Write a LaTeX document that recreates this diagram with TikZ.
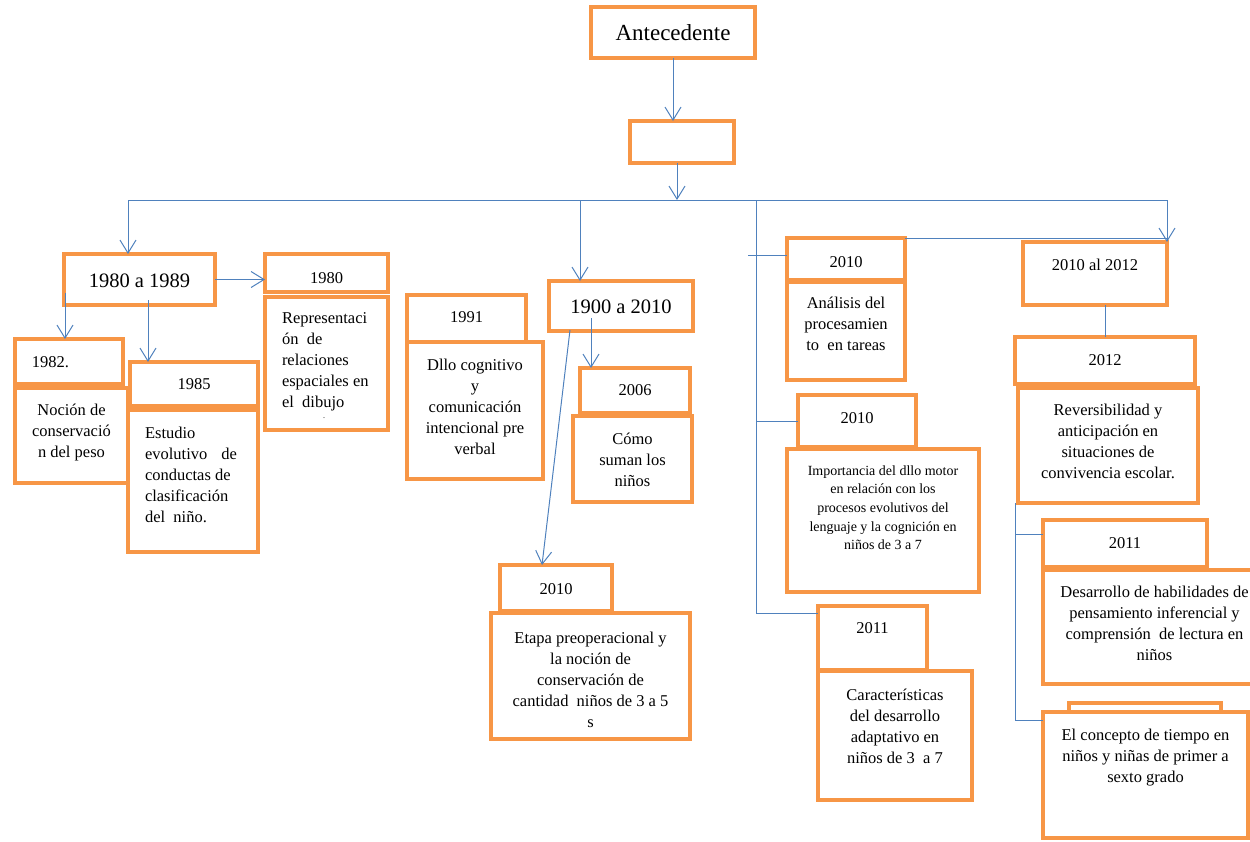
\documentclass[tikz,border=0pt]{standalone}
\usepackage{fontspec}
\setmainfont{Liberation Serif}
\usetikzlibrary{arrows.meta,calc}
\definecolor{boxor}{HTML}{F79646}
\definecolor{lnblue}{HTML}{4F81BD}
\newcommand{\fs}[2]{\fontsize{#1}{#2}\selectfont}
\newcommand{\obx}[8]{\node[obox, anchor=north west] (#1) at (#2,#3) {\parbox[t][\dimexpr #5pt-#3pt\relax][t]{\dimexpr #4pt-#2pt\relax}{#6\rule{0pt}{#7pt}#8}};}
\begin{document}
\begin{tikzpicture}[x=1pt,y=-1pt,
  obox/.style={draw=boxor, line width=4.5pt, fill=white, inner sep=0pt, outer sep=0pt},
  conn/.style={draw=lnblue, line width=1pt},
  arr/.style={conn, -{Straight Barb[length=13pt,width=16pt,line width=1pt]}}]
\useasboundingbox (0,0) rectangle (1250,841);
\clip (0,0) rectangle (1250,841);
% boxes
\obx{ante}{591}{7}{755}{58}{\centering\fs{23}{26}}{33}{Antecedente}
\obx{empty}{630}{121}{734}{163}{}{0}{}
\obx{b8089}{64}{254}{215}{305}{\centering\fs{20.5}{24}}{33}{1980 a 1989}
\obx{y1980}{265}{254}{388}{292}{\centering\fs{16.5}{21}}{29}{1980}
\obx{t1980}{265}{297}{388}{430}{\raggedright\leftskip=17pt\fs{16.5}{21}}{26}{Representaci\\ón\ \ de\\relaciones\\espaciales en\\el\ \ dibujo\\[-10pt]\hspace*{41pt}{\fs{8}{8}.}}
\obx{y1982}{15}{339}{123}{384}{\raggedright\leftskip=17pt\fs{16.5}{21}}{28}{1982.}
\obx{t1982}{15}{388}{128}{483}{\centering\fs{16.5}{21}}{27}{Noción de\\conservació\\n del peso}
\obx{y1985}{130}{362}{258}{406}{\centering\fs{16.5}{21}}{27}{1985}
\obx{t1985}{128}{410}{258}{552}{\raggedright\leftskip=17pt\fs{16.5}{21}}{28}{Estudio\\evolutivo\hspace{14pt}de\\conductas de\\clasificación\\del\ \ niño.}
\obx{y1991}{407}{295}{526}{342}{\centering\fs{16.5}{21}}{27}{1991}
\obx{t1991}{407}{342}{543}{479}{\centering\fs{16.5}{21}}{28}{Dllo cognitivo\\y\\comunicación\\intencional pre\\verbal}
\obx{b1900}{549}{281}{693}{331}{\centering\fs{20.5}{24}}{32}{1900 a 2010}
\obx{y2006}{580}{368}{690}{413}{\centering\fs{16.5}{21}}{27}{2006}
\obx{t2006}{573}{416}{692}{502}{\centering\fs{16.5}{21}}{28}{Cómo\\suman los\\niños}
\obx{y2010a}{500}{565}{612}{611}{\centering\fs{16.5}{21}}{29}{2010}
\obx{t2010a}{491}{613}{690}{739}{\centering\fs{16.5}{21}}{30}{Etapa preoperacional y\\la noción de\\conservación de\\cantidad\ \ niños de 3 a 5\\s}
\obx{y2010b}{787}{238}{905}{280}{\centering\fs{16.5}{21}}{29}{2010}
\obx{t2010b}{787}{282}{905}{380}{\centering\fs{16.5}{21}}{26}{Análisis del\\procesamien\\to\ \ en tareas}
\obx{y2010c}{798}{395}{916}{447}{\centering\fs{16.5}{21}}{28}{2010}
\obx{t2010c}{787}{449}{979}{592}{\centering\fs{14}{18.7}}{26}{Importancia del dllo motor\\en relación con los\\procesos evolutivos del\\lenguaje y la cognición en\\niños de 3 a 7}
\obx{y2011a}{818}{606}{927}{670}{\centering\fs{16.5}{21}}{27}{2011}
\obx{t2011a}{818}{671}{972}{800}{\centering\fs{16.5}{21}}{29}{Características\\del desarrollo\\adaptativo en\\niños de 3\ \ a 7}
\obx{b1012}{1023}{242}{1167}{305}{\centering\fs{16.5}{21}}{28}{2010 al 2012}
\obx{y2012}{1015}{337}{1195}{384}{\centering\fs{16.5}{21}}{28}{2012}
\obx{t2012}{1018}{388}{1198}{503}{\centering\fs{16.5}{21}}{27}{Reversibilidad y\\anticipación en\\situaciones de\\convivencia escolar.}
\obx{y2011b}{1043}{520}{1207}{567}{\centering\fs{16.5}{21}}{28}{2011}
\obx{t2011b}{1043}{570}{1266}{684}{\centering\fs{16.5}{21}}{27}{Desarrollo de habilidades de\\pensamiento inferencial y\\comprensión\ \ de lectura en\\niños}
\obx{back}{1069}{703}{1221}{740}{}{0}{}
\obx{tiempo}{1043}{712}{1248}{838}{\centering\fs{16.5}{21}}{28}{El concepto de tiempo en\\niños y niñas de primer a\\sexto grado}
% coordinates
\coordinate (hub) at (677,200);
\coordinate (hl) at (128,200);
\coordinate (hm) at (580,200);
\coordinate (hr) at (1167,200);
\coordinate (vtop) at (756,200);
\coordinate (v1) at (748,255);
\coordinate (v3) at (756,613);
\coordinate (w0) at (1015,503);
\coordinate (w1) at (1015,720);
\coordinate (w2) at (1015,534);
\coordinate (a1) at (65,293);
\coordinate (a2) at (148,300);
\coordinate (a3) at (591,318);
\coordinate (a4) at (570,330);
% connectors
\draw[arr] (ante.south) -- (ante.south |- empty.north);
\draw[arr] (hub |- empty.south) -- (hub);
\draw[conn] (hl) -- (hr);
\draw[arr] (hl) -- (hl |- b8089.north);
\draw[arr] (hm) -- (hm |- b1900.north);
\draw[arr] (hr) -- (hr |- b1012.north);
\draw[conn] (vtop) -- (v3) -- (v3 -| y2011a.west);
\draw[conn] (v1) -- (v1 -| y2010b.west);
\draw[conn] (vtop |- y2010c.west) -- (y2010c.west);
\draw[conn] (y2010b.north east) -- (y2010b.north east -| hr);
\draw[conn] (y2012.north |- b1012.south) -- (y2012.north);
\draw[conn] (w0) -- (w1) -- (w1 -| tiempo.west);
\draw[conn] (w2) -- (w2 -| y2011b.west);
\draw[arr] (b8089.east) -- (b8089.east -| y1980.west);
\draw[arr] (a1) -- (a1 |- y1982.north);
\draw[arr] (a2) -- (a2 |- y1985.north);
\draw[arr] (a3) -- (a3 |- y2006.north);
\draw[arr] (a4) -- ([xshift=42pt]y2010a.north west);
\end{tikzpicture}
\end{document}
